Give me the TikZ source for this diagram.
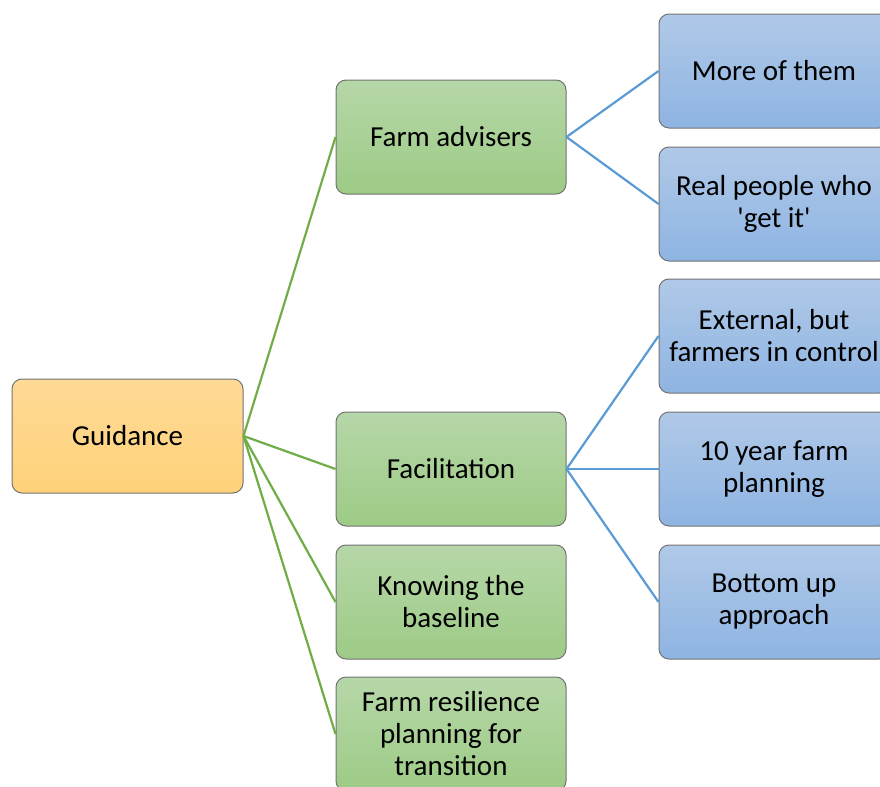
\documentclass[tikz,border=0pt]{standalone}
\usepackage{fontspec}
\setmainfont{Carlito}
\usetikzlibrary{positioning}

\definecolor{edgegreen}{HTML}{70AD47}
\definecolor{edgeblue}{HTML}{5B9BD5}

\begin{document}
\begin{tikzpicture}[x=0.5pt,y=-0.5pt,
    box/.style={draw=black!55,line width=0.5pt,rounded corners=5pt,
        minimum width=115pt,minimum height=57pt,align=center,
        font=\fontsize{14.5}{16}\selectfont,shading=axis},
    orangebox/.style={box,top color={rgb,255:red,255;green,218;blue,150},bottom color={rgb,255:red,255;green,210;blue,122}},
    greenbox/.style={box,top color={rgb,255:red,182;green,215;blue,168},bottom color={rgb,255:red,157;green,203;blue,134}},
    bluebox/.style={box,top color={rgb,255:red,176;green,201;blue,232},bottom color={rgb,255:red,142;green,180;blue,226}},
    greenline/.style={edgegreen,line width=1.1pt},
    blueline/.style={edgeblue,line width=1.1pt}]
    \useasboundingbox (0,0) rectangle (880,787);
    \clip (0,0) rectangle (880,787);
    % root
    \node[orangebox,minimum width=115.5pt] (guid) at (127.5,436) {Guidance};
    % second level
    \node[greenbox] (adv) at (451,137) {Farm advisers};
    \node[greenbox] (fac) at (451,469) {Facilitation};
    \node[greenbox] (base) at (451,602) {Knowing the\\baseline};
    \node[greenbox] (resil) at (451,734) {Farm resilience\\planning for\\transition};
    % third level
    \node[bluebox] (more) at (774,71) {More of them};
    \node[bluebox] (real) at (774,204) {Real people who\\\textquotesingle get it\textquotesingle};
    \node[bluebox] (ext) at (774,336) {External, but\\farmers in control};
    \node[bluebox] (ten) at (774,469) {10 year farm\\planning};
    \node[bluebox] (bott) at (774,602) {Bottom up\\approach};
    % connectors
    \foreach \n in {adv,fac,base,resil}
        \draw[greenline] (guid.east) -- (\n.west);
    \foreach \n in {more,real}
        \draw[blueline] (adv.east) -- (\n.west);
    \foreach \n in {ext,ten,bott}
        \draw[blueline] (fac.east) -- (\n.west);
\end{tikzpicture}
\end{document}
